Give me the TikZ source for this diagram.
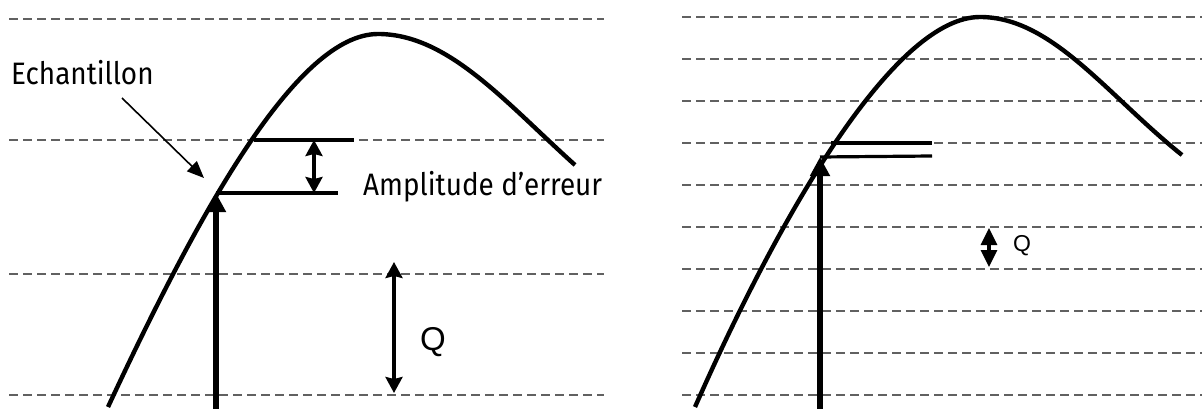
\documentclass[tikz,border=0pt]{standalone}
\usepackage{fontspec}
\newfontfamily\labelfont{Fira Sans}
\newfontfamily\qfont{Liberation Sans}
\usetikzlibrary{arrows.meta,positioning}
\newcommand{\narrow}[1]{\scalebox{0.9}[1]{#1}}
\tikzset{
  level/.style={draw=black!62,line width=2.8pt,dash pattern=on 9pt off 5pt},
  signal/.style={line width=4.4pt},
  sample/.style={line width=6pt,-{Triangle[length=19pt,width=19pt]}},
  errbar/.style={line width=3.2pt},
  span/.style={line width=3.2pt,{Stealth[length=16pt,width=17pt,inset=2pt]}-{Stealth[length=16pt,width=17pt,inset=2pt]}},
  smallspan/.style={line width=3.2pt,{Triangle[length=17pt,width=16pt]}-{Triangle[length=17pt,width=16pt]}},
  pointer/.style={line width=1.6pt,-{Triangle[length=17pt,width=14pt]}},
  wordlabel/.style={font=\labelfont\fontsize{31}{36}\selectfont,inner sep=0pt},
  qlabel/.style={font=\qfont\fontsize{33}{38}\selectfont,inner sep=0pt},
}

\begin{document}
\begin{tikzpicture}[x=1pt,y=-1pt]
    \useasboundingbox (0,0) rectangle (1202,409);
    % coarse quantization
    \foreach \y in {19,140,274,395}
        \draw[level] (9,\y) -- (604,\y);
    \draw[signal] (108,407) .. controls (201,207) and (298,34) .. (378,34)
        .. controls (448,34) and (505,102) .. (575,165);
    \coordinate (sampleL) at (216,193);
    \coordinate (baseL) at (216,409);
    \draw[sample] (baseL) -- (sampleL);
    \draw[errbar] (254,140) -- (354,140);
    \draw[errbar] (sampleL) -- (338,193);
    \draw[span] (314,140) -- (314,193);
    \node[wordlabel,anchor=base west] (ampl) at (363,195) {\narrow{Amplitude d’erreur}};
    \node[wordlabel,anchor=base west] (echant) at (11,85) {\narrow{Echantillon}};
    \coordinate (echtail) at (122,98);
    \coordinate (echtip) at (204,178);
    \draw[pointer] (echtail) -- (echtip);
    \coordinate (qtopL) at (394,262);
    \coordinate (qbotL) at (394,393);
    \draw[span] (qtopL) -- (qbotL);
    \node[qlabel] (qL) at (433,342) {Q};
    % fine quantization
    \foreach \i in {0,...,9}
        \draw[level] (682,17+42*\i) -- (1202,17+42*\i);
    \draw[signal] (695,407) .. controls (785,203) and (897,17) .. (980,17)
        .. controls (1052,17) and (1107,95) .. (1182,155);
    \coordinate (sampleR) at (820,157);
    \coordinate (baseR) at (820,409);
    \draw[sample] (baseR) -- (sampleR);
    \draw[errbar] (831,143) -- (932,143);
    \draw[errbar] (sampleR) -- (932,156);
    \coordinate (qtopR) at (989,228);
    \coordinate (qbotR) at (989,267);
    \draw[smallspan] (qtopR) -- (qbotR);
    \node[qlabel,font=\qfont\fontsize{23}{27}\selectfont] (qR) at (1022,246) {Q};
\end{tikzpicture}
\end{document}
